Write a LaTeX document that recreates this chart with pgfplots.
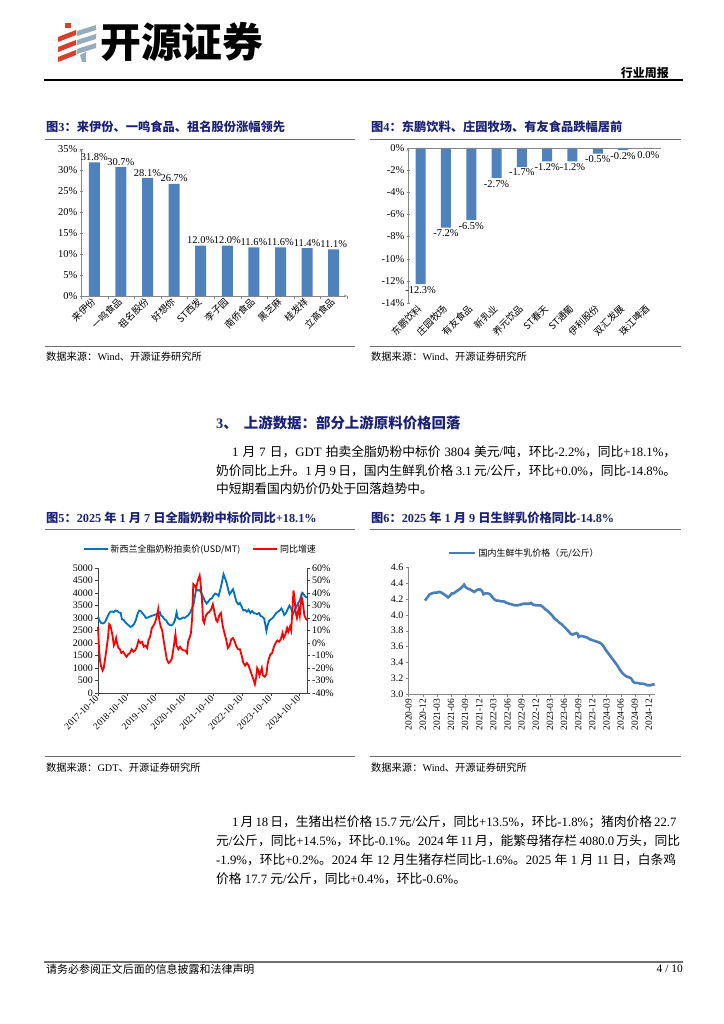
\documentclass[border=0pt]{standalone}
\usepackage{pgfplots}
\pgfplotsset{compat=1.18}
\usepackage{fontspec}
\setmainfont{Liberation Serif}
\newfontfamily\cjk{Noto Sans CJK SC}
\definecolor{barblue}{RGB}{79,129,189}
\definecolor{navy}{RGB}{28,34,120}
\definecolor{gdtblue}{RGB}{0,112,192}
\definecolor{milkblue}{RGB}{74,126,187}
\definecolor{axgray}{RGB}{134,134,134}
\definecolor{rulegray}{RGB}{110,110,110}
\definecolor{logored}{RGB}{214,64,45}
\definecolor{logogray}{RGB}{150,172,186}
\newcommand\zh[1]{{\cjk #1}}
\newcommand\body{\fontsize{12.8}{12.8}\selectfont}
\newcommand\ftitle{\bfseries\color{navy}\fontsize{12.3}{12.3}\selectfont}
\newcommand\src{\cjk\fontsize{10.3}{10.3}\selectfont}

\pgfplotsset{
  pagechart/.style={
    scale only axis, anchor=south west, clip=false,
    /pgf/number format/assume math mode=true,
    tick align=outside, major tick length=3bp, minor tick length=3bp,
    axis line style={-},
  },
}

\begin{document}
\begin{tikzpicture}[x=1bp,y=1bp]
\path[fill=white] (0,0) rectangle (724,1024);

% ---- header
\foreach \k in {0,1,2} {
  \fill[logored] (58,{1024-37-10*\k}) -- (76,{1024-30-10*\k}) -- (76,{1024-35-10*\k}) -- (58,{1024-42-10*\k}) -- cycle;
  \fill[logogray] (77,{1024-31-9*\k}) -- (96,{1024-25-9*\k}) -- (96,{1024-30-9*\k}) -- (77,{1024-36-9*\k}) -- cycle;
}
\fill[logored] (65,{1024-23}) rectangle (71,{1024-28});
\fill[logogray] (80,{1024-55}) -- (86,{1024-52}) -- (86,{1024-62}) -- (82,{1024-62}) -- cycle;
\node[anchor=west, inner sep=0pt] at (100,982) {\cjk\bfseries\fontsize{41}{41}\selectfont 开源证券};
\node[anchor=east, inner sep=0pt] at (669,951) {\cjk\bfseries\fontsize{12}{12}\selectfont 行业周报};
\draw[line width=1.3bp] (44,944) -- (683,944);

% ---- figure titles and rules (top row)
\node[anchor=west, inner sep=0pt] at (46,897) {\ftitle\zh{图}3\zh{：来伊份、一鸣食品、祖名股份涨幅领先}};
\node[anchor=west, inner sep=0pt] at (371,897) {\ftitle\zh{图}4\zh{：东鹏饮料、庄园牧场、有友食品跌幅居前}};
\draw[rulegray, line width=1bp] (45,884) -- (355,884);
\draw[rulegray, line width=1bp] (370,884) -- (681,884);
\draw[rulegray, line width=1bp] (45,677) -- (355,677);
\draw[rulegray, line width=1bp] (370,677) -- (681,677);
\node[anchor=west, inner sep=0pt] at (46,667) {\src 数据来源：{\rmfamily Wind}、开源证券研究所};
\node[anchor=west, inner sep=0pt] at (371,667) {\src 数据来源：{\rmfamily Wind}、开源证券研究所};

% ---- Fig 3
\begin{axis}[pagechart, at={(81bp,728bp)}, width=266bp, height=147bp,
  ymin=0, ymax=35, ytick={0,5,...,35}, xmin=-0.5, xmax=9.5,
  axis x line=bottom, axis y line=left, axis line style={axgray},
  ytick style={axgray}, major x tick style={draw=none},
  minor xtick={-0.5,0.5,...,9.5}, minor x tick style={axgray},
  xtick={0,...,9},
  xticklabels={来伊份,一鸣食品,祖名股份,好想你,ST西发,李子园,南侨食品,黑芝麻,桂发祥,立高食品},
  xticklabel style={rotate=45, anchor=east, inner sep=1bp, font=\cjk\fontsize{9.5}{9.5}\selectfont},
  yticklabel={\pgfmathprintnumber{\tick}\%},
  yticklabel style={font=\fontsize{10.5}{10.5}\selectfont, inner sep=2bp},
  ybar, bar width=11bp,
  nodes near coords={\pgfmathprintnumber[fixed,fixed zerofill,precision=1]{\pgfplotspointmeta}\%},
  nodes near coords style={font=\fontsize{10.5}{10.5}\selectfont, black, inner sep=1.5bp},
]
\addplot[fill=barblue, draw=none] coordinates {(0,31.8) (1,30.7) (2,28.1) (3,26.7) (4,12.0) (5,12.0) (6,11.6) (7,11.6) (8,11.4) (9,11.1)};
\end{axis}

% ---- Fig 4
\begin{axis}[pagechart, at={(408bp,721bp)}, width=253bp, height=155bp,
  ymin=-14, ymax=0, ytick={-14,-12,...,0}, xmin=-0.5, xmax=9.5,
  axis x line=bottom, axis y line=left, axis line style={axgray},
  x axis line style={draw=none},
  ytick style={axgray}, major x tick style={draw=none},
  xtick={0,...,9},
  xticklabels={东鹏饮料,庄园牧场,有友食品,新乳业,养元饮品,ST春天,ST通葡,伊利股份,双汇发展,珠江啤酒},
  xticklabel style={rotate=45, anchor=east, inner sep=1bp, font=\cjk\fontsize{9.5}{9.5}\selectfont},
  yticklabel={\pgfmathprintnumber{\tick}\%},
  yticklabel style={font=\fontsize{10.5}{10.5}\selectfont, inner sep=2bp},
  ybar, bar width=10bp,
]
\addplot[fill=barblue, draw=none, bar shift=0pt,
  nodes near coords={\pgfmathprintnumber[fixed,fixed zerofill,precision=1]{\pgfplotspointmeta}\%},
  nodes near coords style={font=\fontsize{10.5}{10.5}\selectfont, black, inner sep=2bp}]
  coordinates {(0,-12.3) (1,-7.2) (2,-6.5) (3,-2.7) (4,-1.7) (5,-1.2) (6,-1.2) (7,-0.5) (8,-0.2)};
\addplot[fill=barblue, draw=none, bar shift=0pt] coordinates {(9,0.0)};
\node[anchor=north, inner sep=2bp, font=\fontsize{10.5}{10.5}\selectfont] at (9,-0.1) {0.0\%};
\draw[axgray] (-0.5,0) -- (9.5,0);
\end{axis}

% ---- section heading and paragraph 1
\node[anchor=west, inner sep=0pt] at (216,601) {\bfseries\color{navy}\fontsize{14.5}{14.5}\selectfont 3\zh{、}\hspace{6bp}\zh{上游数据：部分上游原料价格回落}};
\node[anchor=west, inner sep=0pt] at (232,572) {\body\makebox[444bp][s]{1 \zh{月} 7 \zh{日，}GDT \zh{拍卖全脂奶粉中标价} 3804 \zh{美元}/\zh{吨，环比}-2.2\%\zh{，同比}+18.1\%\zh{，}}};
\node[anchor=west, inner sep=0pt] at (216,553) {\body\makebox[460bp][s]{\zh{奶价同比上升。}1 \zh{月} 9 \zh{日，国内生鲜乳价格} 3.1 \zh{元}/\zh{公斤，环比}+0.0\%\zh{，同比}-14.8\%\zh{。}}};
\node[anchor=west, inner sep=0pt] at (216,535) {\body\zh{中短期看国内奶价仍处于回落趋势中。}};

% ---- figure titles (bottom row)
\node[anchor=west, inner sep=0pt] at (46,506) {\ftitle\zh{图}5\zh{：}2025 \zh{年} 1 \zh{月} 7 \zh{日全脂奶粉中标价同比}+18.1\%};
\node[anchor=west, inner sep=0pt] at (371,506) {\ftitle\zh{图}6\zh{：}2025 \zh{年} 1 \zh{月} 9 \zh{日生鲜乳价格同比}-14.8\%};
\draw[rulegray, line width=1bp] (45,494) -- (355,494);
\draw[rulegray, line width=1bp] (370,494) -- (681,494);
\draw[rulegray, line width=1bp] (45,267) -- (355,267);
\draw[rulegray, line width=1bp] (370,267) -- (681,267);
\node[anchor=west, inner sep=0pt] at (46,256) {\src 数据来源：{\rmfamily GDT}、开源证券研究所};
\node[anchor=west, inner sep=0pt] at (371,256) {\src 数据来源：{\rmfamily Wind}、开源证券研究所};

% ---- Fig 5
\begin{axis}[pagechart, at={(98bp,331bp)}, width=209bp, height=125bp,
  xmin=2017.77, xmax=2025.03, ymin=0, ymax=5000, ytick={0,500,...,5000},
  axis y line*=left, axis x line*=bottom, axis line style={black!75},
  tick style={black!75},
  xtick={2017.77,2018.77,2019.77,2020.77,2021.77,2022.77,2023.77,2024.77},
  xticklabels={2017-10-10,2018-10-10,2019-10-10,2020-10-10,2021-10-10,2022-10-10,2023-10-10,2024-10-10},
  xticklabel style={rotate=45, anchor=east, inner sep=1bp, font=\fontsize{9.5}{9.5}\selectfont},
  scaled y ticks=false, yticklabel style={/pgf/number format/1000 sep={}, font=\fontsize{10}{10}\selectfont, inner sep=2bp},
  legend style={at={(0.49,1.15)}, anchor=center, legend columns=2, draw=none, fill=none,
    font=\cjk\fontsize{9}{9}\selectfont, /tikz/every even column/.append style={column sep=10bp}},
  legend image code/.code={\draw[#1] (0bp,0bp) -- (24bp,0bp);},
]
\addplot[gdtblue, line width=1.8bp, mark=none] coordinates {
(2017.77,3050) (2017.82,2900) (2017.88,2800) (2017.95,2780) (2018.02,2850) (2018.08,3000)
(2018.14,3150) (2018.20,3250) (2018.26,3260) (2018.32,3240) (2018.38,3300) (2018.44,3280)
(2018.50,3220) (2018.56,3200) (2018.60,2950) (2018.66,2920) (2018.72,2830) (2018.78,2760)
(2018.84,2700) (2018.90,2640) (2018.96,2680) (2019.02,2750) (2019.08,2900) (2019.14,3150)
(2019.20,3300) (2019.26,3270) (2019.32,3180) (2019.38,3100) (2019.44,3000) (2019.50,3020)
(2019.56,3050) (2019.62,3080) (2019.68,3100) (2019.74,3130) (2019.80,3150) (2019.86,3200)
(2019.92,3230) (2019.96,3100) (2020.02,3050) (2020.08,2950) (2020.14,2900) (2020.20,2780)
(2020.26,2720) (2020.32,2700) (2020.38,2760) (2020.44,2900) (2020.50,3220) (2020.54,3000)
(2020.60,2950) (2020.66,2980) (2020.72,3020) (2020.78,3000) (2020.84,3060) (2020.90,3100)
(2020.96,3200) (2021.02,3350) (2021.08,3500) (2021.14,3900) (2021.18,4150) (2021.24,4100)
(2021.30,4120) (2021.36,4000) (2021.42,3850) (2021.48,3700) (2021.54,3580) (2021.60,3650)
(2021.66,3750) (2021.72,3780) (2021.78,3900) (2021.84,3980) (2021.90,3950) (2021.96,3880)
(2022.02,4150) (2022.08,4450) (2022.13,4750) (2022.18,4600) (2022.24,4400) (2022.30,4100)
(2022.34,3950) (2022.40,4050) (2022.46,4150) (2022.52,3900) (2022.58,3650) (2022.64,3550)
(2022.70,3600) (2022.76,3450) (2022.82,3300) (2022.88,3320) (2022.94,3250) (2023.00,3330)
(2023.06,3200) (2023.12,3280) (2023.18,3200) (2023.24,3180) (2023.30,3150) (2023.36,3200)
(2023.42,3080) (2023.48,3050) (2023.54,2980) (2023.58,2750) (2023.62,2480) (2023.66,2700)
(2023.72,2900) (2023.78,2950) (2023.84,3000) (2023.90,3100) (2023.96,3200) (2024.02,3250)
(2024.08,3300) (2024.14,3380) (2024.20,3250) (2024.24,3120) (2024.30,3200) (2024.36,3350)
(2024.42,3500) (2024.48,3380) (2024.54,3150) (2024.60,3300) (2024.66,3450) (2024.72,3600)
(2024.78,3700) (2024.84,3950) (2024.88,4000) (2024.94,3900) (2025.02,3804)};
\addlegendentry{新西兰全脂奶粉拍卖价(USD/MT)}
\addlegendimage{red, line width=1.8bp}
\addlegendentry{同比增速}
\end{axis}
\begin{axis}[pagechart, at={(98bp,331bp)}, width=209bp, height=125bp,
  xmin=2017.77, xmax=2025.03, ymin=-40, ymax=60, ytick={-40,-30,...,60},
  axis y line*=right, axis x line=none, axis line style={black!75}, tick style={black!75},
  yticklabel={\pgfmathprintnumber{\tick}\%},
  yticklabel style={font=\fontsize{10}{10}\selectfont, inner sep=2bp},
]
\addplot[red, line width=1.8bp, mark=none] coordinates {
(2017.77,13) (2017.80,-2) (2017.84,-14) (2017.88,-19) (2017.93,-22) (2017.97,-20)
(2018.02,-12) (2018.07,-4) (2018.12,5) (2018.16,15) (2018.20,14) (2018.24,10)
(2018.28,5) (2018.32,-2) (2018.36,0) (2018.40,4) (2018.44,-1) (2018.48,-4)
(2018.53,-5) (2018.58,-8) (2018.64,-7) (2018.70,-9) (2018.76,-11) (2018.82,-9)
(2018.88,-8) (2018.94,-5) (2019.00,-7) (2019.06,-6) (2019.12,-3) (2019.18,2)
(2019.24,0) (2019.30,1) (2019.36,-3) (2019.42,-2) (2019.48,-4) (2019.52,2)
(2019.58,5) (2019.64,12) (2019.70,14) (2019.76,17) (2019.82,22) (2019.86,27)
(2019.90,18) (2019.95,13) (2020.00,10) (2020.05,2) (2020.10,-5) (2020.16,-13)
(2020.22,-16) (2020.28,-15) (2020.34,-12) (2020.40,-3) (2020.46,7) (2020.50,-2)
(2020.56,-5) (2020.62,-3) (2020.68,-5) (2020.74,-6) (2020.80,-6) (2020.86,-8)
(2020.90,1) (2020.95,4) (2021.00,8) (2021.04,20) (2021.08,47) (2021.12,46)
(2021.18,44) (2021.24,50) (2021.30,54) (2021.34,46) (2021.38,35) (2021.42,18)
(2021.46,16) (2021.52,22) (2021.58,24) (2021.64,25) (2021.70,27) (2021.76,31)
(2021.82,24) (2021.88,18) (2021.92,17) (2021.98,22) (2022.04,24) (2022.10,14)
(2022.16,8) (2022.22,3) (2022.28,-4) (2022.34,-2) (2022.40,3) (2022.46,4)
(2022.52,1) (2022.58,-3) (2022.64,-5) (2022.70,-5) (2022.76,-10) (2022.82,-16)
(2022.88,-18) (2022.94,-16) (2023.00,-18) (2023.06,-22) (2023.12,-26) (2023.18,-30)
(2023.22,-33) (2023.26,-28) (2023.30,-20) (2023.34,-22) (2023.38,-26) (2023.42,-23)
(2023.46,-20) (2023.50,-26) (2023.56,-27) (2023.62,-25) (2023.66,-17) (2023.70,-13)
(2023.76,-9) (2023.82,-8) (2023.88,-3) (2023.94,0) (2024.00,2) (2024.06,1)
(2024.12,3) (2024.18,8) (2024.22,4) (2024.28,7) (2024.34,12) (2024.38,9)
(2024.44,13) (2024.48,10) (2024.52,25) (2024.56,42) (2024.60,35) (2024.64,24)
(2024.68,20) (2024.74,28) (2024.78,22) (2024.84,37) (2024.88,33) (2024.94,22)
(2025.02,18.1)};
\end{axis}

% ---- Fig 6
\begin{axis}[pagechart, at={(408.5bp,330bp)}, width=246.5bp, height=126.7bp,
  xmin=0, xmax=52.3, ymin=3.0, ymax=4.6,
  ytick={3.0,3.2,3.4,3.6,3.8,4.0,4.2,4.4,4.6},
  axis x line*=bottom, axis y line*=left, axis line style={axgray}, tick style={axgray},
  yticklabel style={/pgf/number format/.cd, fixed, fixed zerofill, precision=1, /tikz/.cd,
    font=\fontsize{10}{10}\selectfont, inner sep=2bp},
  xtick={0,3,...,51},
  xticklabels={2020-09,2020-12,2021-03,2021-06,2021-09,2021-12,2022-03,2022-06,2022-09,2022-12,2023-03,2023-06,2023-09,2023-12,2024-03,2024-06,2024-09,2024-12},
  xticklabel style={rotate=90, anchor=east, inner sep=1.5bp, font=\fontsize{9.5}{9.5}\selectfont},
  legend style={at={(0.47,1.113)}, anchor=center, draw=none, fill=none,
    font=\cjk\fontsize{9}{9}\selectfont},
  legend image code/.code={\draw[#1] (0bp,0bp) -- (26bp,0bp);},
]
\addplot[milkblue, line width=2.6bp, mark=none] coordinates {
(3.5,4.18) (4.0,4.22) (4.5,4.26) (5.0,4.27) (5.5,4.28) (6.0,4.28) (6.5,4.29) (7.0,4.28)
(7.5,4.26) (8.0,4.24) (8.4,4.22) (8.8,4.24) (9.2,4.27) (9.6,4.27) (10.0,4.29) (10.5,4.31)
(11.0,4.33) (11.5,4.36) (11.8,4.38) (12.1,4.35) (12.6,4.33) (13.1,4.32) (13.6,4.30) (14.0,4.29)
(14.4,4.31) (14.8,4.32) (15.2,4.32) (15.6,4.30) (15.9,4.26) (16.3,4.27) (16.8,4.27) (17.3,4.26)
(17.7,4.23) (18.1,4.20) (18.6,4.18) (19.1,4.18) (19.6,4.17) (20.2,4.17) (20.8,4.15) (21.4,4.14)
(22.0,4.13) (22.6,4.12) (23.2,4.12) (23.8,4.13) (24.4,4.14) (25.0,4.14) (25.6,4.14) (26.0,4.15)
(26.4,4.13) (27.0,4.12) (27.5,4.12) (28.0,4.12) (28.5,4.10) (29.0,4.07) (29.5,4.05) (30.0,4.02)
(30.5,3.99) (31.0,3.95) (31.5,3.93) (32.0,3.90) (32.5,3.88) (33.0,3.85) (33.5,3.82) (34.0,3.79)
(34.4,3.76) (34.8,3.75) (35.2,3.76) (35.6,3.77) (35.9,3.76) (36.1,3.72) (36.4,3.73) (37.0,3.73)
(37.5,3.72) (38.0,3.71) (38.5,3.69) (39.0,3.68) (39.5,3.67) (40.0,3.66) (40.5,3.65) (41.0,3.63)
(41.4,3.60) (41.8,3.56) (42.3,3.52) (42.8,3.48) (43.3,3.44) (43.8,3.40) (44.3,3.36) (44.8,3.31)
(45.3,3.27) (45.8,3.24) (46.3,3.22) (46.8,3.21) (47.2,3.20) (47.6,3.16) (48.0,3.14) (48.6,3.14)
(49.2,3.13) (49.8,3.13) (50.3,3.12) (50.8,3.11) (51.3,3.11) (51.8,3.12) (52.2,3.12)};
\addlegendentry{国内生鲜牛乳价格（元/公斤）}
\end{axis}

% ---- paragraph 2
\node[anchor=west, inner sep=0pt] at (232,202) {\body\makebox[444bp][s]{1 \zh{月} 18 \zh{日，生猪出栏价格} 15.7 \zh{元}/\zh{公斤，同比}+13.5\%\zh{，环比}-1.8\%\zh{；猪肉价格} 22.7}};
\node[anchor=west, inner sep=0pt] at (216,183) {\body\makebox[460bp][s]{\zh{元}/\zh{公斤，同比}+14.5\%\zh{，环比}-0.1\%\zh{。}2024 \zh{年} 11 \zh{月，能繁母猪存栏} 4080.0 \zh{万头，同比}}};
\node[anchor=west, inner sep=0pt] at (216,164) {\body\makebox[460bp][s]{-1.9\%\zh{，环比}+0.2\%\zh{。}2024 \zh{年} 12 \zh{月生猪存栏同比}-1.6\%\zh{。}2025 \zh{年} 1 \zh{月} 11 \zh{日，白条鸡}}};
\node[anchor=west, inner sep=0pt] at (216,145) {\body\zh{价格} 17.7 \zh{元}/\zh{公斤，同比}+0.4\%\zh{，环比}-0.6\%\zh{。}};

% ---- footer
\draw[rulegray, line width=1.3bp] (44,62) -- (683,62);
\node[anchor=west, inner sep=0pt] at (46,55) {\cjk\fontsize{11}{11}\selectfont 请务必参阅正文后面的信息披露和法律声明};
\node[anchor=east, inner sep=0pt] at (683,55) {\fontsize{11.5}{11.5}\selectfont 4 / 10};
\end{tikzpicture}
\end{document}
